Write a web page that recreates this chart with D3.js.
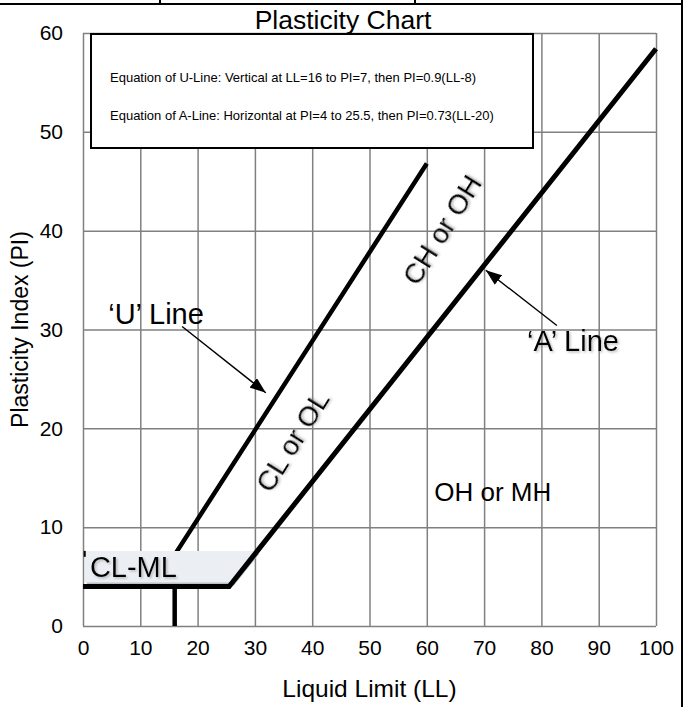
<!DOCTYPE html>
<meta charset="utf-8">
<style>
body { margin: 0; background: #fff; }
text { font-family: "Liberation Sans", Arial, Helvetica, sans-serif; fill: #000; }
.grid line { stroke: #808080; stroke-width: 1.5px; }
.grid path { display: none; }
.label { font-size: 28px; }
</style>
<svg width="686" height="707"></svg>
<script src="https://d3js.org/d3.v7.min.js"></script>
<script>

// axis ticks
var llTicks = [0, 10, 20, 30, 40, 50, 60, 70, 80, 90, 100];
var piTicks = [0, 10, 20, 30, 40, 50, 60];

// U-line and A-line vertices (LL, PI)
var uLineLL = [16, 16, 60];
var uLinePI = [0, 7.2, 46.8];
var aLineLL = [0, 25.5, 100];
var aLinePI = [4, 4, 58.4];

// CL-ML shaded zone
var clmlLL = [0.3, 26.0, 30.4, 0.3];
var clmlPI = [4.4, 4.4, 7.6, 7.6];

// equation notes
var notes = [
  "Equation of U-Line: Vertical at LL=16 to PI=7, then PI=0.9(LL-8)",
  "Equation of A-Line: Horizontal at PI=4 to 25.5, then PI=0.73(LL-20)"
];

// zone / line labels: text, LL, PI, angle, size
var labelText = ["\u2018U\u2019 Line", "\u2018A\u2019 Line", "OH or MH", "CH or OH", "CL or OL"];
var labelLL = [4.4, 77.5, 61.3, 62.6, 36.5];
var labelPI = [30.6, 27.8, 12.6, 40.1, 18.7];
var labelAngle = [0, 0, 0, -58, -58];
var labelSize = [29, 29, 26, 28, 28];

// arrows: from (LL,PI) to (LL,PI)
var arrowFrom = [[17.3, 30.3], [82.7, 30.4]];
var arrowTo = [[31.9, 23.6], [70.3, 36.0]];

var svg = d3.select("svg");

var x = d3.scaleLinear().domain([0, 100]).range([83, 656]);
var y = d3.scaleLinear().domain([0, 60]).range([626, 33]);

var defs = svg.append("defs");
defs.append("marker")
    .attr("id", "head")
    .attr("viewBox", "0 0 16 12")
    .attr("refX", 16).attr("refY", 6)
    .attr("markerWidth", 16).attr("markerHeight", 12)
    .attr("markerUnits", "userSpaceOnUse")
    .attr("orient", "auto")
  .append("path")
    .attr("d", "M0,0L16,6L0,12z")
    .attr("fill", "#000");

defs.append("filter")
    .attr("id", "shadow")
    .attr("x", "-20%").attr("y", "-20%").attr("width", "140%").attr("height", "140%")
  .append("feDropShadow")
    .attr("dx", 1.5).attr("dy", 1.5).attr("stdDeviation", 0.8)
    .attr("flood-color", "#888").attr("flood-opacity", 0.55);

// page border bits
svg.append("line").attr("x1", 0).attr("x2", 683).attr("y1", 4).attr("y2", 4)
    .attr("stroke", "#000").attr("stroke-width", 2);
[160, 415].forEach(function(v) {
  svg.append("line").attr("x1", v).attr("x2", v).attr("y1", 0).attr("y2", 4)
      .attr("stroke", "#000").attr("stroke-width", 2);
});
svg.append("line").attr("x1", 682).attr("x2", 682).attr("y1", 0).attr("y2", 707)
    .attr("stroke", "#000").attr("stroke-width", 2);

// grid + axes
svg.append("g")
    .attr("class", "grid")
    .attr("transform", "translate(0," + y(0) + ")")
    .call(d3.axisBottom(x).tickValues(llTicks).tickSize(-(y(0) - y(60))).tickSizeOuter(0).tickPadding(14))
    .call(function(g) { g.selectAll(".tick text").attr("dy", "0.71em"); });

svg.append("g")
    .attr("class", "grid")
    .attr("transform", "translate(" + x(0) + ",0)")
    .call(d3.axisLeft(y).tickValues(piTicks).tickSize(-(x(100) - x(0))).tickSizeOuter(0).tickPadding(20));

svg.selectAll(".tick text").attr("font-size", 21).style("font-family", '"Liberation Sans", Arial, sans-serif');

// U-line
var line = d3.line().x(function(d) { return x(d[0]); }).y(function(d) { return y(d[1]); });
svg.append("path")
    .attr("d", line(d3.zip(uLineLL, uLinePI)))
    .attr("fill", "none").attr("stroke", "#000").attr("stroke-width", 4.5);

// CL-ML zone
var zone = d3.zip(clmlLL, clmlPI);
svg.append("path")
    .attr("d", line(zone) + "Z")
    .attr("transform", "translate(2,3)")
    .attr("fill", "#b9bfc6");
svg.append("path")
    .attr("d", line(zone) + "Z")
    .attr("fill", "#ebeff3");
svg.append("line")
    .attr("x1", x(0.3)).attr("x2", x(0.3)).attr("y1", y(7.6)).attr("y2", y(7.0))
    .attr("stroke", "#000").attr("stroke-width", 2);
svg.append("text")
    .attr("class", "label")
    .attr("x", x(1.2)).attr("y", y(5.0))
    .attr("font-size", 29)
    .style("font-size", "29px")
    .attr("filter", "url(#shadow)")
    .text("CL-ML");

// A-line
svg.append("path")
    .attr("d", line(d3.zip(aLineLL, aLinePI)))
    .attr("fill", "none").attr("stroke", "#000").attr("stroke-width", 5);

// equation box
svg.append("rect")
    .attr("x", 91).attr("y", 34).attr("width", 442).attr("height", 114)
    .attr("fill", "#fff").attr("stroke", "#000").attr("stroke-width", 2);
svg.selectAll(".note")
    .data(notes)
  .enter().append("text")
    .attr("class", "note")
    .attr("x", 110)
    .attr("y", function(d, i) { return 82 + i * 38; })
    .attr("font-size", 13)
    .text(function(d) { return d; });

// labels
labelText.forEach(function(t, i) {
  var px = x(labelLL[i]), py = y(labelPI[i]);
  var el = svg.append("text")
      .attr("class", "label")
      .style("font-size", labelSize[i] + "px")
      .text(t);
  if (labelAngle[i]) {
    el.attr("text-anchor", "middle")
      .attr("dy", "0.35em")
      .attr("transform", "translate(" + px + "," + py + ") rotate(" + labelAngle[i] + ")")
      .attr("filter", "url(#shadow)");
  } else {
    el.attr("x", px).attr("y", py);
    if (i === 1) el.attr("filter", "url(#shadow)");
  }
});

// arrows
arrowFrom.forEach(function(f, i) {
  svg.append("line")
      .attr("x1", x(f[0])).attr("y1", y(f[1]))
      .attr("x2", x(arrowTo[i][0])).attr("y2", y(arrowTo[i][1]))
      .attr("stroke", "#000").attr("stroke-width", 1.4)
      .attr("marker-end", "url(#head)");
});

// titles
svg.append("text")
    .attr("x", 343).attr("y", 29)
    .attr("text-anchor", "middle")
    .attr("font-size", 26.5)
    .text("Plasticity Chart");

svg.append("text")
    .attr("x", (x(0) + x(100)) / 2).attr("y", 697)
    .attr("text-anchor", "middle")
    .attr("font-size", 24.5)
    .text("Liquid Limit (LL)");

svg.append("text")
    .attr("transform", "translate(28," + (y(0) + y(60)) / 2 + ") rotate(-90)")
    .attr("text-anchor", "middle")
    .attr("font-size", 23)
    .text("Plasticity Index (PI)");

</script>
